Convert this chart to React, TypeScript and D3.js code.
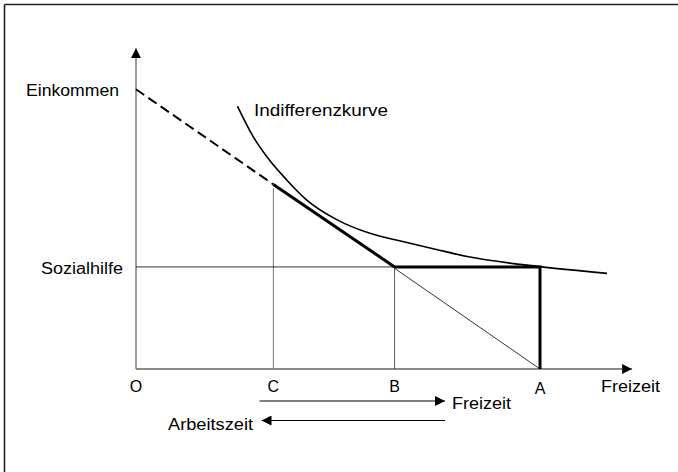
import * as d3 from "d3";

// Freizeit positions on the horizontal axis (A = total time)
const pointLabels = ["O", "C", "B", "A"];
const pointValues = [0, 34, 64, 100];

// income at zero leisure and the welfare level
const maxIncome = 100;
const sozialhilfe = 36.5;

// indifference curve (leisure, income)
const curveX = [25.1, 29.0, 32.4, 37.3, 42.2, 49.7, 57.9, 66.0, 73.3, 82.0, 100, 116.6];
const curveY = [94.0, 83.1, 75.9, 67.6, 60.5, 53.4, 48.5, 45.6, 43.1, 40.2, 36.6, 34.2];

const axisEndX = 122.8;
const axisEndY = 114.7;

const W = 678;
const H = 472;

const FONT = "'Liberation Sans', Arial, sans-serif";

export default function App() {
  const x = d3.scaleLinear().domain([0, 100]).range([136, 540]);
  const y = d3.scaleLinear().domain([0, 100]).range([369, 89.3]);

  const [O, C, B, A] = pointValues;
  const budget = (v: number) => maxIncome * (1 - v / A);

  const curvePts: [number, number][] = curveX.map((v, i) => [v, curveY[i]]);
  const indiff = d3
    .line<[number, number]>()
    .x((d) => x(d[0]))
    .y((d) => y(d[1]))
    .curve(d3.curveMonotoneX)(curvePts);

  const seg = d3
    .line<[number, number]>()
    .x((d) => x(d[0]))
    .y((d) => y(d[1]));

  const label = (t: string, px: number, py: number, len?: number, anchor = "start") => (
    <text
      x={px}
      y={py}
      fontFamily={FONT}
      fontSize={16}
      fill="#000"
      textAnchor={anchor}
      textLength={len}
      lengthAdjust={len ? "spacingAndGlyphs" : undefined}
    >
      {t}
    </text>
  );

  return (
    <svg
      width={W}
      height={H}
      style={{ position: "fixed", left: 0, top: 0, background: "#fff" }}
    >
      <defs>
        <marker id="arr" viewBox="0 0 10 10" refX="10" refY="5" markerWidth="10" markerHeight="10" markerUnits="userSpaceOnUse" orient="auto">
          <path d="M0,0 L10,5 L0,10 Z" fill="#000" />
        </marker>
      </defs>
      <rect width={W} height={H} fill="#fff" />
      {/* frame */}
      <line x1={4.5} y1={4.5} x2={W} y2={4.5} stroke="#222" strokeWidth={1.6} />
      <line x1={4.5} y1={4.5} x2={4.5} y2={H} stroke="#222" strokeWidth={1.6} />

      {/* axes */}
      <line x1={x(0)} y1={y(0)} x2={x(0)} y2={y(axisEndY)} stroke="#666" strokeWidth={1.3} markerEnd="url(#arr)" />
      <line x1={x(0)} y1={y(0)} x2={x(axisEndX)} y2={y(0)} stroke="#666" strokeWidth={1.3} markerEnd="url(#arr)" />

      {/* vertical guides */}
      <line x1={x(C)} y1={y(0)} x2={x(C)} y2={y(budget(C)) + 4} stroke="#777" strokeWidth={1} />
      <line x1={x(B)} y1={y(0)} x2={x(B)} y2={y(sozialhilfe)} stroke="#333" strokeWidth={0.8} />

      {/* Sozialhilfe line */}
      <line x1={x(0)} y1={y(sozialhilfe)} x2={x(B)} y2={y(sozialhilfe)} stroke="#000" strokeWidth={0.8} />

      {/* budget line */}
      <path d={seg([[O, maxIncome], [C, budget(C)]]) ?? ""} fill="none" stroke="#000" strokeWidth={2} strokeDasharray="10 5" />
      <path d={seg([[B, budget(B)], [A, 0]]) ?? ""} fill="none" stroke="#000" strokeWidth={0.8} />
      <path d={seg([[C, budget(C)], [B, sozialhilfe]]) ?? ""} fill="none" stroke="#000" strokeWidth={3} />
      <path d={seg([[B, sozialhilfe], [A, sozialhilfe], [A, 0]]) ?? ""} fill="none" stroke="#000" strokeWidth={3} />

      {/* indifference curve */}
      <path d={indiff ?? ""} fill="none" stroke="#000" strokeWidth={1.6} />

      {/* labels */}
      {label("Einkommen", 26, 96, 93)}
      {label("Indifferenzkurve", 254, 116, 134)}
      {label("Sozialhilfe", 41, 273.5, 82)}
      {pointLabels.map((t, i) => (
        <g key={t}>{label(t, x(pointValues[i]), t === "A" ? 394 : 392, undefined, "middle")}</g>
      ))}
      {label("Freizeit", 601, 392, 59)}

      {/* lower arrows */}
      <line x1={259.5} y1={401} x2={445} y2={401} stroke="#000" strokeWidth={1} markerEnd="url(#arr)" />
      {label("Freizeit", 452, 409, 59)}
      <line x1={445} y1={420.5} x2={261.5} y2={420.5} stroke="#000" strokeWidth={1} markerEnd="url(#arr)" />
      {label("Arbeitszeit", 168, 430, 85)}
    </svg>
  );
}
